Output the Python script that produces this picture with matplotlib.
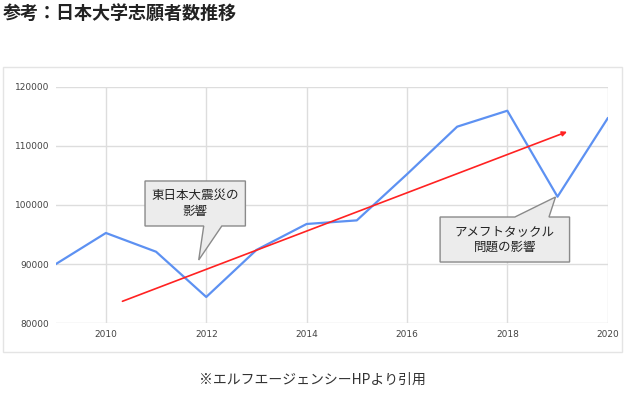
import matplotlib
matplotlib.use("Agg")
import matplotlib.pyplot as plt
from matplotlib.patches import Polygon, Rectangle

plt.rcParams['font.family'] = ['Noto Sans CJK JP', 'DejaVu Sans']

# ---- data ----
years = [2009, 2010, 2011, 2012, 2013, 2014, 2015, 2016, 2017, 2018, 2019, 2020]
applicants = [90000, 95270, 92100, 84450, 92400, 96790, 97400, 105200, 113240, 115940, 101400, 114660]
trend_start = (2010.33, 83720)
trend_end = (2019.19, 112380)
x_ticks = [2010, 2012, 2014, 2016, 2018, 2020]
y_ticks = [80000, 90000, 100000, 110000, 120000]

title = "参考：日本大学志願者数推移"
footer = "※エルフエージェンシーHPより引用"
note1 = "東日本大震災の\n影響"
note2 = "アメフトタックル\n問題の影響"

# callout boxes: (x0, x1, y0, y1), pointer base (bx0, bx1), tip (tx, ty)
box1 = (2010.78, 2012.78, 96450, 104060)
base1 = (2011.95, 2012.31)
tip1 = (2011.85, 90700)
box2 = (2016.66, 2019.24, 90360, 97970)
base2 = (2018.15, 2018.83)
tip2 = (2018.96, 101350)

fig = plt.figure(figsize=(6.32, 3.98), dpi=100)
fig.patch.set_facecolor('white')

# outer chart border
fig.patches.append(Rectangle((3.3/632, 1 - 352.3/398), 619/632, 285/398,
                             transform=fig.transFigure, fill=False,
                             edgecolor='#e4e4e4', linewidth=1.0))

ax = fig.add_axes([55.7/632, 1 - 323.3/398, 552/632, 236.6/398])
ax.set_xlim(2009, 2020)
ax.set_ylim(80000, 120000)
for s in ax.spines.values():
    s.set_visible(False)
ax.set_xticks(x_ticks)
ax.set_yticks(y_ticks)
ax.set_xticklabels([str(v) for v in x_ticks])
ax.set_yticklabels([str(v) for v in y_ticks])
ax.tick_params(length=0, labelsize=6.5, colors='#444444', pad=4.5)
for lab in ax.get_xticklabels() + ax.get_yticklabels():
    lab.set_family('DejaVu Sans')
ax.grid(True, color='#dddddd', linewidth=1.0)
ax.set_axisbelow(True)

ax.plot(years, applicants, color='#5d91f2', linewidth=1.6, zorder=3)

ax.annotate('', xy=trend_end, xytext=trend_start,
            arrowprops=dict(arrowstyle='-|>', color='#ff2222', lw=1.2,
                            mutation_scale=7, shrinkA=0, shrinkB=0),
            zorder=4)

# callout 1 (pointer at bottom)
x0, x1, y0, y1 = box1
pts1 = [(x0, y1), (x1, y1), (x1, y0), (base1[1], y0), tip1, (base1[0], y0), (x0, y0)]
ax.add_patch(Polygon(pts1, closed=True, facecolor='#ececec', edgecolor='#8a8a8a',
                     linewidth=1.0, zorder=5, clip_on=False))
ax.text((x0 + x1) / 2, (y0 + y1) / 2, note1, ha='center', va='center',
        fontsize=9, color='#222222', linespacing=1.3, zorder=6)

# callout 2 (pointer at top)
x0, x1, y0, y1 = box2
pts2 = [(x0, y1), (base2[0], y1), tip2, (base2[1], y1), (x1, y1), (x1, y0), (x0, y0)]
ax.add_patch(Polygon(pts2, closed=True, facecolor='#ececec', edgecolor='#8a8a8a',
                     linewidth=1.0, zorder=5, clip_on=False))
ax.text((x0 + x1) / 2, (y0 + y1) / 2, note2, ha='center', va='center',
        fontsize=9, color='#222222', linespacing=1.3, zorder=6)

fig.text(3 / 632, 1 - 13 / 398, title, ha='left', va='center',
         fontsize=13, fontweight='bold', color='#222222')
fig.text(312 / 632, 1 - 380 / 398, footer, ha='center', va='center',
         fontsize=10, color='#333333')

fig.savefig('out.png', dpi=100, facecolor='white')
